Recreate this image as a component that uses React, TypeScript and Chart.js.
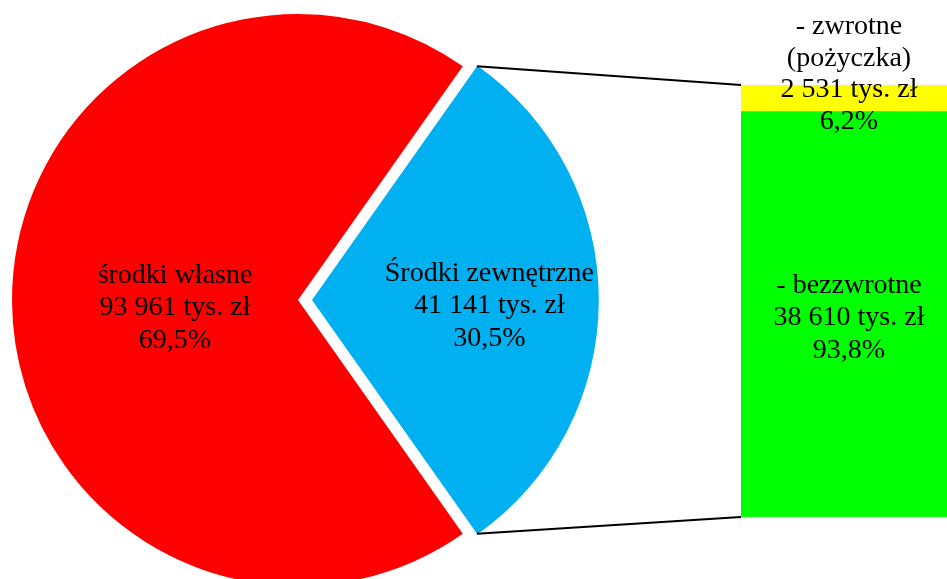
import React, { useEffect, useRef } from "react";
import { Chart, registerables } from "chart.js";

Chart.register(...registerables);

// ---- data ----
const pieCategories = ["Środki zewnętrzne", "środki własne"];
const pieValues = [41141, 93961];
const pieColors = ["#00B0F0", "#FF0000"];

const barCategories = ["- bezzwrotne", "- zwrotne\n(pożyczka)"];
const barValues = [38610, 2531];
const barColors = ["#00FF00", "#FFFF00"];

const FONT = "28px 'Liberation Serif', 'Times New Roman', serif";
const LINE = 32.5;

const fmtNum = (v: number) => v.toString().replace(/\B(?=(\d{3})+(?!\d))/g, " ");
const fmtPct = (v: number, t: number) => (v / t * 100).toFixed(1).replace(".", ",") + "%";

export default function App() {
  const pieRef = useRef<HTMLCanvasElement>(null);
  const barRef = useRef<HTMLCanvasElement>(null);

  useEffect(() => {
    document.body.style.margin = "0";
    const pieTotal = pieValues.reduce((a, b) => a + b, 0);
    const barTotal = barValues.reduce((a, b) => a + b, 0);
    const BAR_LEFT = 741;

    const barLabelPlugin = {
      id: "barLabels",
      afterDatasetsDraw(chart: any) {
        const ctx = chart.ctx;
        ctx.save();
        ctx.font = FONT;
        ctx.fillStyle = "#000";
        ctx.textAlign = "center";
        ctx.textBaseline = "alphabetic";
        const g = chart.getDatasetMeta(0).data[0] as any;
        const gLines = [...barCategories[0].split("\n"), fmtNum(barValues[0]) + " tys. zł", fmtPct(barValues[0], barTotal)];
        const gMid = (g.y + g.base) / 2 + 11;
        gLines.forEach((l, i) => ctx.fillText(l, g.x, gMid + (i - (gLines.length - 1) / 2) * LINE));
        const y = chart.getDatasetMeta(1).data[0] as any;
        const yLines = [...barCategories[1].split("\n"), fmtNum(barValues[1]) + " tys. zł", fmtPct(barValues[1], barTotal)];
        const top = y.y;
        yLines.forEach((l, i) => ctx.fillText(l, y.x, top - 51 + i * 31.5));
        ctx.restore();
      },
    };

    const barChart = new Chart(barRef.current!, {
      type: "bar",
      data: {
        labels: ["x"],
        datasets: barValues.map((v, i) => ({
          label: barCategories[i],
          data: [v],
          backgroundColor: barColors[i],
          borderWidth: 0,
          barPercentage: 1,
          categoryPercentage: 1,
        })),
      },
      options: {
        responsive: false,
        animation: false,
        devicePixelRatio: 1,
        layout: { padding: { top: 85, bottom: 83, left: 0, right: 0 } },
        plugins: { legend: { display: false }, tooltip: { enabled: false } },
        scales: {
          x: { stacked: true, display: false },
          y: { stacked: true, display: false, min: 0, max: barTotal },
        },
      },
      plugins: [barLabelPlugin],
    });

    const OFFSET_PX = 14;
    const pieLabelPlugin = {
      id: "pieLabels",
      afterDatasetsDraw(chart: any) {
        const ctx = chart.ctx;
        const arcs = chart.getDatasetMeta(0).data as any[];
        ctx.save();
        const blue = arcs[0];
        const mid = (blue.startAngle + blue.endAngle) / 2;
        const bx = blue.x + Math.cos(mid) * OFFSET_PX;
        const by = blue.y + Math.sin(mid) * OFFSET_PX;
        const R = blue.outerRadius;
        const c1 = [bx + R * Math.cos(blue.startAngle), by + R * Math.sin(blue.startAngle)];
        const c2 = [bx + R * Math.cos(blue.endAngle), by + R * Math.sin(blue.endAngle)];
        const yb = barChart.getDatasetMeta(1).data[0] as any;
        const gb = barChart.getDatasetMeta(0).data[0] as any;
        const left = BAR_LEFT + yb.x - yb.width / 2;
        ctx.strokeStyle = "#000";
        ctx.lineWidth = 2;
        ctx.beginPath();
        ctx.moveTo(c1[0], c1[1]);
        ctx.lineTo(left, yb.y);
        ctx.moveTo(c2[0], c2[1]);
        ctx.lineTo(left, gb.base);
        ctx.stroke();
        ctx.font = FONT;
        ctx.fillStyle = "#000";
        ctx.textAlign = "center";
        ctx.textBaseline = "alphabetic";
        const fracs = [0.62, 0.43];
        const dy = [13, 15];
        arcs.forEach((a, i) => {
          const m = (a.startAngle + a.endAngle) / 2;
          const off = i === 0 ? OFFSET_PX : 0;
          const lx = a.x + Math.cos(m) * (off + a.outerRadius * fracs[i]);
          const ly = a.y + Math.sin(m) * (off + a.outerRadius * fracs[i]) + dy[i];
          const lines = [pieCategories[i], fmtNum(pieValues[i]) + " tys. zł", fmtPct(pieValues[i], pieTotal)];
          lines.forEach((l, j) => ctx.fillText(l, lx, ly + (j - 1) * LINE));
        });
        ctx.restore();
      },
    };

    const blueDeg = (pieValues[0] / pieTotal) * 360;
    const pieChart = new Chart(pieRef.current!, {
      type: "pie",
      data: {
        labels: pieCategories,
        datasets: [
          {
            data: pieValues,
            backgroundColor: pieColors,
            borderWidth: 0,
            offset: [OFFSET_PX * 4, 0],
            hoverOffset: 0,
          },
        ],
      },
      options: {
        responsive: false,
        animation: false,
        devicePixelRatio: 1,
        rotation: 90 - blueDeg / 2,
        radius: 286,
        layout: { padding: { left: 0, right: 351, top: 0, bottom: 0 } },
        plugins: { legend: { display: false }, tooltip: { enabled: false } },
      },
      plugins: [pieLabelPlugin],
    });

    return () => {
      pieChart.destroy();
      barChart.destroy();
    };
  }, []);

  return (
    <div style={{ position: "fixed", left: 0, top: 0, width: 947, height: 579, overflow: "hidden", background: "#fff" }}>
      <canvas ref={pieRef} width={947} height={600} style={{ position: "absolute", left: 0, top: 0 }} />
      <canvas ref={barRef} width={216} height={600} style={{ position: "absolute", left: 741, top: 0 }} />
    </div>
  );
}
